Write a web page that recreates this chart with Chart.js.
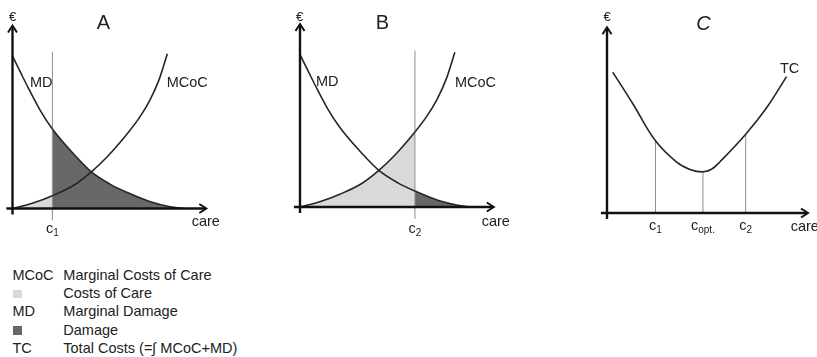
<!DOCTYPE html>
<html>
<head>
<meta charset="utf-8">
<script src="https://cdn.jsdelivr.net/npm/chart.js@4.4.0/dist/chart.umd.min.js"></script>
<style>
    html, body { margin: 0; padding: 0; background: #fff; }
    #wrap { position: relative; width: 817px; height: 357px; overflow: hidden;
            font-family: "Liberation Sans", Arial, sans-serif; color: #222; }
    #wrap canvas { position: absolute; left: 0; top: 0; }
    .legend { position: absolute; left: 12.5px; top: 265.8px; font-size: 14.5px; line-height: 18.33px; }
    .row { position: relative; height: 18.33px; white-space: nowrap; }
    .key { position: absolute; left: 0; }
    .desc { position: absolute; left: 50.8px; }
    .sq { position: absolute; left: 0.5px; top: 5.5px; width: 8.5px; height: 8.5px; }
</style>
</head>
<body>
<div id="wrap">
    <canvas id="chartA" width="817" height="250"></canvas>
    <canvas id="chartB" width="817" height="250"></canvas>
    <canvas id="chartC" width="817" height="250"></canvas>
    <div class="legend">
        <div class="row"><span class="key">MCoC</span><span class="desc">Marginal Costs of Care</span></div>
        <div class="row"><span class="sq" style="background:#d9d9d9"></span><span class="desc">Costs of Care</span></div>
        <div class="row"><span class="key">MD</span><span class="desc">Marginal Damage</span></div>
        <div class="row"><span class="sq" style="background:#686868"></span><span class="desc">Damage</span></div>
        <div class="row"><span class="key">TC</span><span class="desc">Total Costs (=∫ MCoC+MD)</span></div>
    </div>
</div>
<script>
// --- Data ---
const mcocX = [0, 1.08, 2.1, 3.27, 4.15, 4.96, 6.05, 6.67, 7.22, 7.7, 8.15];
const mcocY = [0, 0.3, 0.7, 1.3, 2.0, 2.8, 4.1, 4.95, 5.9, 7.0, 8.45];
const mdX = [0, 0.45, 0.85, 1.45, 2.1, 3.25, 4.15, 5.15, 6.05, 7.25, 8.3, 9.0];
const mdY = [8.33, 7.38, 6.55, 5.38, 4.34, 2.94, 2.0, 1.32, 0.87, 0.37, 0.1, 0];
const c1 = 2.1;
const c2 = 6.05;
const guideSpan = [-0.65, 8.55];   // bottom / top of the c1, c2 guide lines

const tcX = [0.3, 1.4, 2.55, 3.65, 4.4, 5.05, 5.5, 5.95, 7.3, 8.4, 9.45];
const tcY = [7.7, 5.9, 3.95, 2.8, 2.37, 2.25, 2.39, 2.8, 4.3, 5.75, 7.45];
const tcMarks = [2.55, 5.05, 7.3];
const tcMarkSubs = ['1', 'opt.', '2'];

// --- Style ---
const INK = '#262626', LIGHT = '#d9d9d9', DARK = '#686868', GUIDE = '#8e8e8e', NONE = 'rgba(0,0,0,0)';
const FONT = '"Liberation Sans", Arial, sans-serif';
const PX = 19, PY = 18.3;   // pixels per unit on both axes

const pts = (xs, ys) => xs.map((x, i) => ({ x: x, y: ys[i] }));

// a curve, optionally filled down to the x axis between two care levels
function curve(data, shade, from, to) {
    const ds = { data: data, borderColor: INK, borderWidth: 1.6, fill: false,
        cubicInterpolationMode: 'monotone', order: 1 };
    if (shade) {
        ds.fill = 'origin';
        ds.backgroundColor = shade;
        ds.segment = { backgroundColor: c =>
            (data[c.p0DataIndex].x >= from && data[c.p1DataIndex].x <= to) ? shade : NONE };
    }
    return ds;
}
const guide = (x, y0, y1) => ({ data: [{ x: x, y: y0 }, { x: x, y: y1 }], borderColor: GUIDE,
    borderWidth: 1, fill: false, order: 2 });

// axes with arrows, labels and the c-marks under the x axis
const axesPlugin = {
    id: 'axes',
    afterDatasetsDraw(chart, args, opts) {
        const { ctx, scales: { x, y } } = chart;
        const x0 = x.getPixelForValue(0), y0 = y.getPixelForValue(0);
        ctx.save();
        ctx.strokeStyle = '#111';
        ctx.lineWidth = 2.4;
        ctx.beginPath();
        ctx.moveTo(x.left, y0); ctx.lineTo(x.right - 1, y0);
        ctx.moveTo(x0, y0 + 6); ctx.lineTo(x0, y.top + 1);
        ctx.stroke();
        ctx.lineWidth = 2;
        ctx.lineJoin = 'miter';
        ctx.beginPath();
        ctx.moveTo(x.right - 7, y0 - 4.5); ctx.lineTo(x.right, y0); ctx.lineTo(x.right - 7, y0 + 4.5);
        ctx.moveTo(x0 - 4.5, y.top + 7); ctx.lineTo(x0, y.top); ctx.lineTo(x0 + 4.5, y.top + 7);
        ctx.stroke();

        ctx.fillStyle = '#222';
        ctx.textBaseline = 'alphabetic';
        opts.texts.forEach(t => {
            ctx.font = (t.style || '') + ' ' + (t.size || 14.5) + 'px ' + FONT;
            ctx.textAlign = t.align || 'left';
            ctx.fillText(t.text, t.x, t.y);
        });
        opts.marks.forEach(m => {
            ctx.font = '14.5px ' + FONT;
            const w1 = ctx.measureText('c').width;
            ctx.font = '10px ' + FONT;
            const w2 = ctx.measureText(m.sub).width;
            const left = x.getPixelForValue(m.at) - (w1 + w2) / 2;
            ctx.textAlign = 'left';
            ctx.font = '14.5px ' + FONT;
            ctx.fillText('c', left, opts.markY);
            ctx.font = '10px ' + FONT;
            ctx.fillText(m.sub, left + w1, opts.markY + 3);
        });
        ctx.restore();
    }
};

function panel(id, origin, range, datasets, texts, marks, markY) {
    const [xMin, xMax, yMin, yMax] = range;
    const W = 817, H = 250;
    new Chart(document.getElementById(id), {
        type: 'line',
        data: { datasets: datasets },
        options: {
            responsive: false,
            animation: false,
            layout: { padding: {
                left: origin.x + xMin * PX,
                right: W - (origin.x + xMax * PX),
                top: origin.y - yMax * PY,
                bottom: H - (origin.y - yMin * PY)
            } },
            scales: {
                x: { type: 'linear', min: xMin, max: xMax, display: false },
                y: { type: 'linear', min: yMin, max: yMax, display: false }
            },
            elements: { point: { radius: 0 } },
            plugins: { legend: { display: false }, tooltip: { enabled: false },
                filler: { drawTime: 'beforeDatasetsDraw' },
                axes: { texts: texts, marks: marks, markY: markY } }
        },
        plugins: [axesPlugin]
    });
}

const mcoc = pts(mcocX, mcocY);
const md = pts(mdX, mdY);

// --- Panel A ---
panel('chartA', { x: 12.5, y: 208.5 }, [-0.32, 10.2, -0.8, 10], [
    guide(c1, guideSpan[0], guideSpan[1]),
    curve(md, DARK, c1, Infinity),
    curve(mcoc, LIGHT, 0, c1)
], [
    { text: '€', x: 12.5, y: 20.7, size: 13, align: 'center' },
    { text: 'A', x: 103.5, y: 29.3, size: 20, align: 'center' },
    { text: 'MD', x: 30, y: 87 },
    { text: 'MCoC', x: 166.7, y: 87.3 },
    { text: 'care', x: 191.7, y: 226 }
], [{ at: c1, sub: '1' }], 232.5);

// --- Panel B ---
panel('chartB', { x: 300, y: 207 }, [-0.32, 10.2, -0.8, 10], [
    guide(c2, guideSpan[0], guideSpan[1]),
    curve(md, DARK, c2, Infinity),
    curve(mcoc, LIGHT, 0, c2)
], [
    { text: '€', x: 299.7, y: 20.7, size: 13, align: 'center' },
    { text: 'B', x: 382.5, y: 29.3, size: 20, align: 'center' },
    { text: 'MD', x: 316, y: 86 },
    { text: 'MCoC', x: 455, y: 87.3 },
    { text: 'care', x: 481.7, y: 226 }
], [{ at: c2, sub: '2' }], 232.5);

// --- Panel C ---
const tcCurve = curve(pts(tcX, tcY));
tcCurve.cubicInterpolationMode = 'default';
tcCurve.tension = 0.4;
panel('chartC', { x: 607, y: 213 }, [-0.32, 10.58, -0.4, 10.15], [
    ...tcMarks.map(m => guide(m, 0, tcY[tcX.indexOf(m)])),
    tcCurve
], [
    { text: '€', x: 607, y: 20.9, size: 13, align: 'center' },
    { text: 'C', x: 703.5, y: 30, size: 20, align: 'center', style: 'italic' },
    { text: 'TC', x: 780, y: 72.7 },
    { text: 'care', x: 790.7, y: 230.5 }
], tcMarks.map((m, i) => ({ at: m, sub: tcMarkSubs[i] })), 230);
</script>
</body>
</html>
